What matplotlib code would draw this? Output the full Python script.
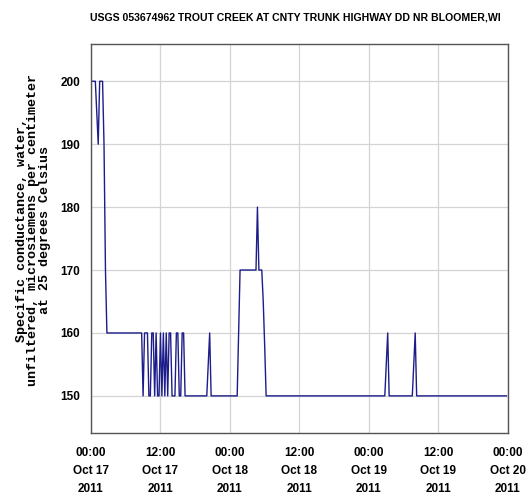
import matplotlib
matplotlib.use("Agg")
import matplotlib.pyplot as plt
import matplotlib.dates as mdates
from datetime import datetime, timedelta

TITLE = "USGS 053674962 TROUT CREEK AT CNTY TRUNK HIGHWAY DD NR BLOOMER,WI"
YLABEL = ("Specific conductance, water,\n"
          "unfiltered, microsiemens per centimeter\n"
          "at 25 degrees Celsius")

start = datetime(2011, 10, 17, 0, 0)

# hours after 2011-10-17 00:00 and specific conductance (uS/cm)
hours = [0.0, 0.75, 1.0, 1.25, 1.5, 2.0, 2.25, 2.5, 2.75,
         8.75, 9.0, 9.25, 9.75, 10.0, 10.25, 10.5, 10.75, 11.0, 11.25,
         11.5, 11.75, 12.0, 12.25, 12.5, 12.75, 13.0, 13.25, 13.5, 13.75,
         14.0, 14.5, 14.75, 15.0, 15.25, 15.5, 15.75, 16.0, 16.25,
         20.0, 20.25, 20.5, 20.75,
         25.25, 25.5, 25.75, 28.5, 28.75, 29.0, 29.5, 29.75, 30.0, 30.25,
         50.75, 51.0, 51.25, 51.5,
         55.5, 55.75, 56.0, 56.25, 71.75]
conductance = [200, 200, 195, 190, 200, 200, 190, 170, 160,
               160, 150, 160, 160, 150, 150, 160, 160, 150, 160,
               150, 150, 160, 150, 160, 150, 160, 150, 160, 160,
               150, 150, 160, 160, 150, 150, 160, 160, 150,
               150, 155, 160, 150,
               150, 160, 170, 170, 180, 170, 170, 165, 158, 150,
               150, 155, 160, 150,
               150, 155, 160, 150, 150]

yticks = [150, 160, 170, 180, 190, 200]

SANS = "Liberation Sans"

times = [start + timedelta(hours=h) for h in hours]

fig = plt.figure(figsize=(5.29, 4.96), dpi=100)
ax = fig.add_axes([0.172, 0.127, 0.788, 0.784])

ax.plot(times, conductance, color="#1c1c8a", linewidth=1.0)

ax.set_xlim(start, start + timedelta(days=3))
ax.set_ylim(144.1, 205.9)
ax.set_yticks(yticks)
ax.xaxis.set_major_locator(mdates.HourLocator(byhour=[0, 12]))
ax.xaxis.set_major_formatter(mdates.DateFormatter("%H:%M\n%b %d\n%Y"))

ax.grid(True, color="#d4d4d4", linewidth=0.9)
ax.set_axisbelow(True)
ax.tick_params(axis="y", length=0, pad=8)
ax.tick_params(axis="x", length=0, pad=10)
for lab in ax.get_xticklabels() + ax.get_yticklabels():
    lab.set_fontfamily(SANS)
    lab.set_fontweight("bold")
    lab.set_fontsize(8.5)
for lab in ax.get_xticklabels():
    lab.set_linespacing(1.65)
for sp in ax.spines.values():
    sp.set_color("#555555")
    sp.set_linewidth(1.0)

fig.text(0.559, 0.965, TITLE, ha="center", va="center",
         fontfamily=SANS, fontweight="bold", fontsize=7.6)
fig.text(0.063, 0.536, YLABEL, ha="center", va="center", rotation=90,
         fontfamily="Liberation Mono", fontweight="bold", fontsize=9.6,
         linespacing=0.95)

fig.savefig("out.png", dpi=100)
